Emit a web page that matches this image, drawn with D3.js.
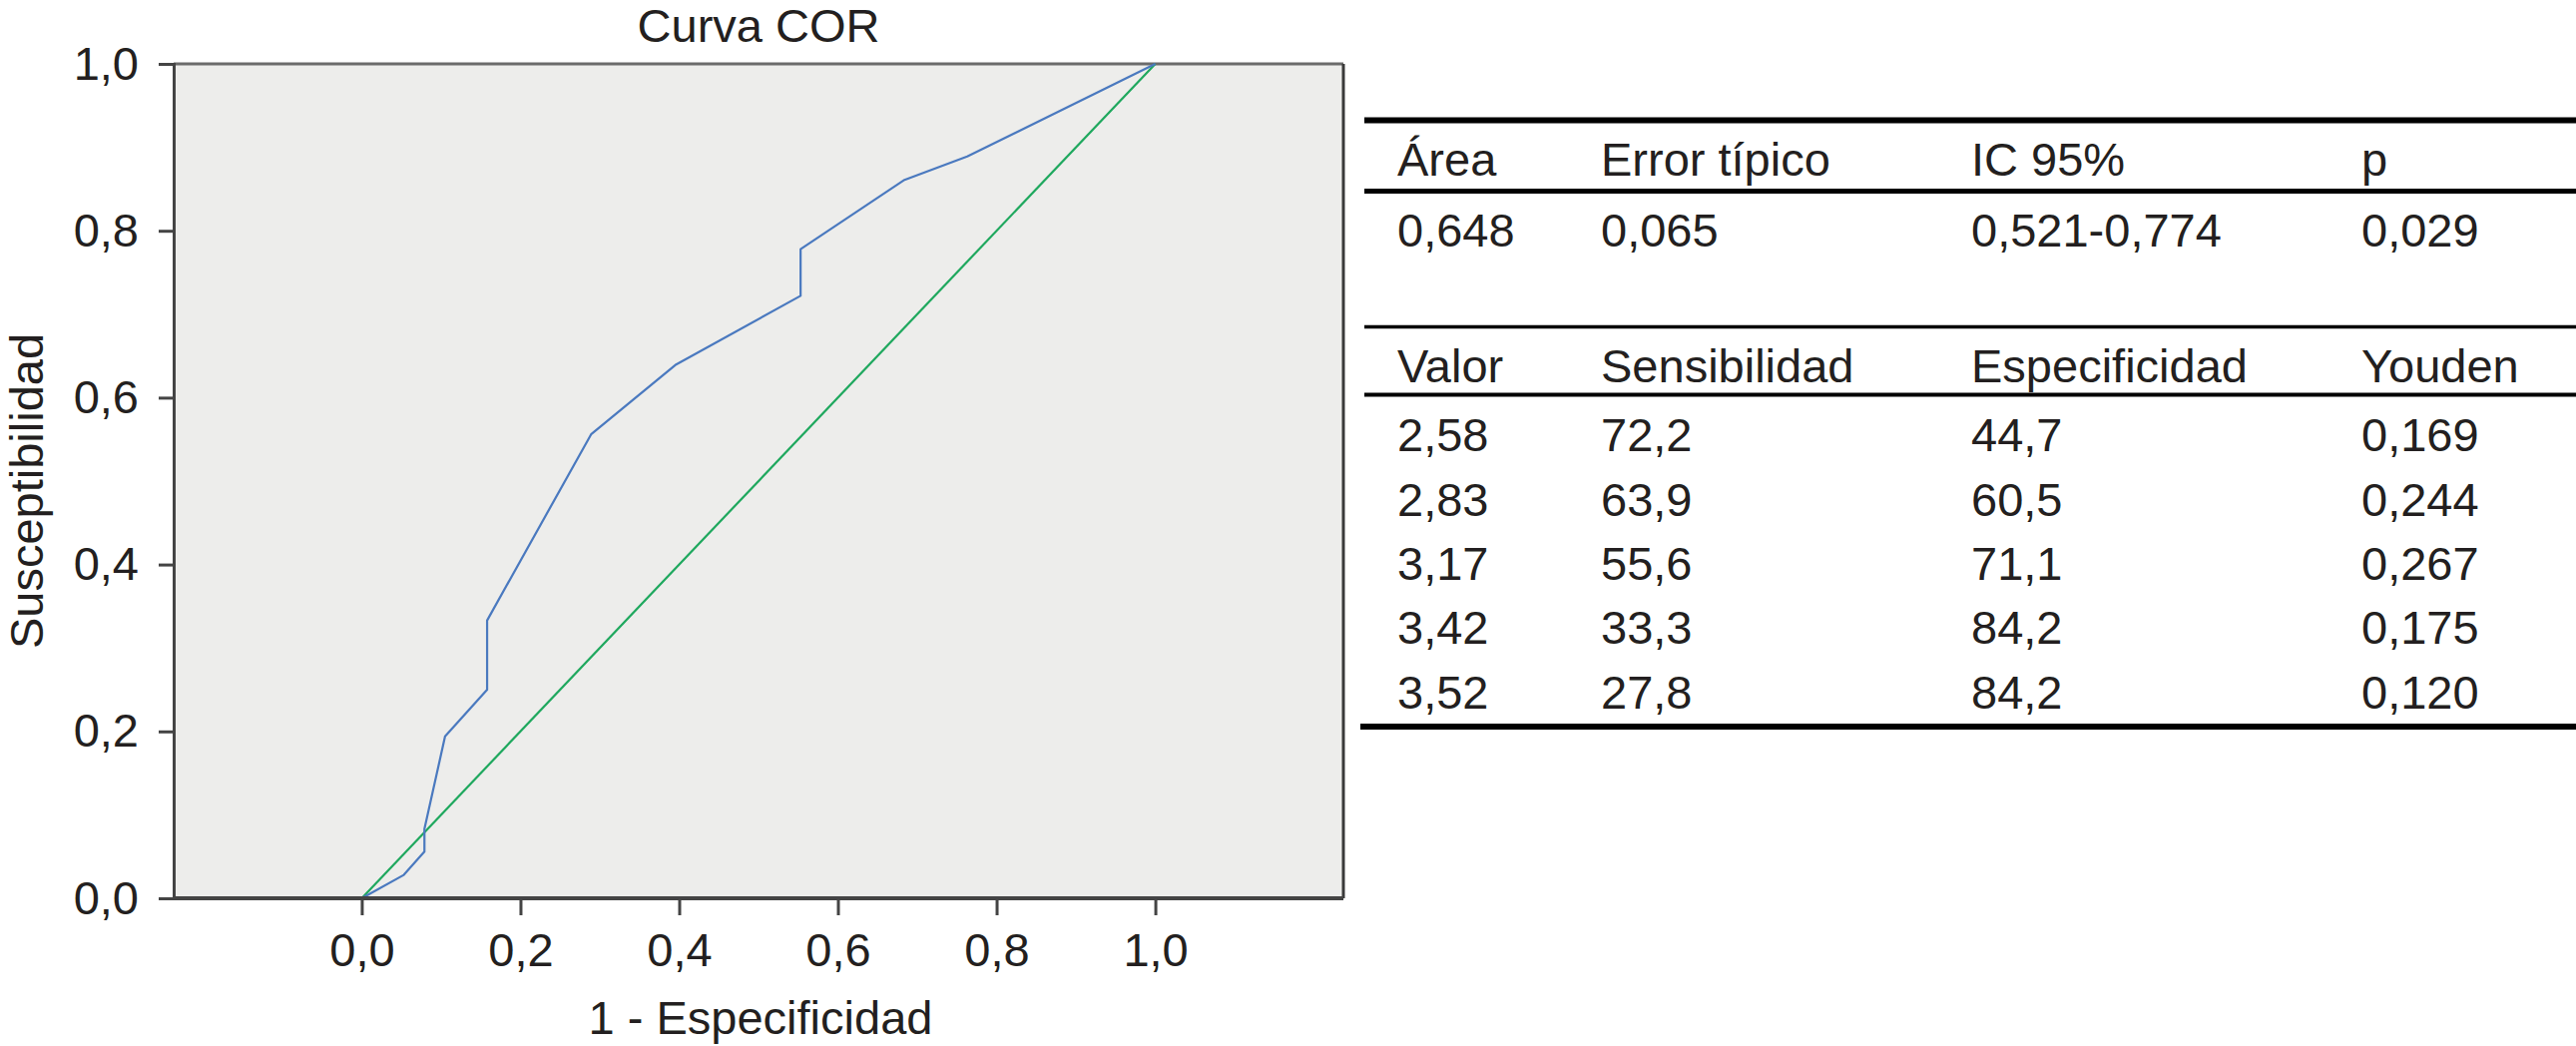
<!DOCTYPE html>
<html>
<head>
<meta charset="utf-8">
<script src="https://cdn.jsdelivr.net/npm/d3@7"></script>
<style>
html,body{margin:0;padding:0;background:#fff;}
svg text{font-family:"Liberation Sans",Arial,Helvetica,sans-serif;fill:#231f20;}
</style>
</head>
<body>
<svg id="chart" width="2581" height="1048"></svg>
<script>
// ROC curve data (1 - Especificidad, Susceptibilidad)
const rocFpr = [0, 0.053, 0.079, 0.079, 0.105, 0.158, 0.158, 0.289, 0.395, 0.553, 0.553, 0.684, 0.763, 1];
const rocTpr = [0, 0.028, 0.056, 0.083, 0.194, 0.250, 0.333, 0.556, 0.639, 0.722, 0.778, 0.861, 0.889, 1];
const refFpr = [0, 1];
const refTpr = [0, 1];
const xTicks = [0, 0.2, 0.4, 0.6, 0.8, 1.0];
const yTicks = [0, 0.2, 0.4, 0.6, 0.8, 1.0];
const titleText = "Curva COR";
const xTitle = "1 - Especificidad";
const yTitle = "Susceptibilidad";

// Table data
const header1 = ["Área", "Error típico", "IC 95%", "p"];
const row1 = ["0,648", "0,065", "0,521-0,774", "0,029"];
const header2 = ["Valor", "Sensibilidad", "Especificidad", "Youden"];
const valor = ["2,58", "2,83", "3,17", "3,42", "3,52"];
const sens = ["72,2", "63,9", "55,6", "33,3", "27,8"];
const espec = ["44,7", "60,5", "71,1", "84,2", "84,2"];
const youden = ["0,169", "0,244", "0,267", "0,175", "0,120"];

(function () {
const svg = d3.select("#chart");
const fmt = d => d3.format(".1f")(d).replace(".", ",");

const pL = 174, pR = 1346, pT = 64, pB = 900;
const x = d3.scaleLinear().domain([-0.237, 1.237]).range([pL, pR]);
const y = d3.scaleLinear().domain([0, 1]).range([pB, pT]);

// plot background
svg.append("rect").attr("x", pL).attr("y", pT)
  .attr("width", pR - pL).attr("height", pB - pT)
  .attr("fill", "#EDEDEB");

// top & right border
svg.append("line").attr("x1", pL).attr("x2", pR).attr("y1", pT).attr("y2", pT)
  .attr("stroke", "#6b6b6b").attr("stroke-width", 3);
svg.append("line").attr("x1", pR).attr("x2", pR).attr("y1", pT).attr("y2", pB)
  .attr("stroke", "#3a3a3a").attr("stroke-width", 3);

// reference diagonal
const line = d3.line().x(d => x(d[0])).y(d => y(d[1]));
svg.append("path").datum(d3.zip(refFpr, refTpr))
  .attr("d", line).attr("fill", "none").attr("stroke", "#1FA85E").attr("stroke-width", 2.2);

// ROC curve
svg.append("path").datum(d3.zip(rocFpr, rocTpr))
  .attr("d", line).attr("fill", "none").attr("stroke", "#4A79BF").attr("stroke-width", 2.2)
  .attr("stroke-linejoin", "round");

// Y axis
const yAxis = d3.axisLeft(y).tickValues(yTicks).tickFormat(fmt).tickSize(15).tickPadding(20);
const gy = svg.append("g").attr("transform", `translate(${pL},0)`).call(yAxis);
gy.select(".domain").attr("stroke", "#444").attr("stroke-width", 3);
gy.selectAll(".tick line").attr("stroke", "#444").attr("stroke-width", 3);
gy.selectAll(".tick text").attr("font-size", 47).attr("fill", "#231f20")
  .attr("font-family", '"Liberation Sans",Arial,sans-serif');

// X axis
const xAxis = d3.axisBottom(x).tickValues(xTicks).tickFormat(fmt).tickSize(17).tickPadding(18);
const gx = svg.append("g").attr("transform", `translate(0,${pB})`).call(xAxis);
gx.select(".domain").attr("stroke", "#444").attr("stroke-width", 4)
  .attr("d", `M${pL},0H${pR}`);
gx.selectAll(".tick line").attr("stroke", "#444").attr("stroke-width", 3);
gx.selectAll(".tick text").attr("font-size", 47).attr("fill", "#231f20")
  .attr("font-family", '"Liberation Sans",Arial,sans-serif');

// Titles
svg.append("text").attr("x", (pL + pR) / 2).attr("y", 42)
  .attr("text-anchor", "middle").attr("font-size", 47).text(titleText);
svg.append("text").attr("x", 762).attr("y", 1036)
  .attr("text-anchor", "middle").attr("font-size", 47).text(xTitle);
svg.append("text").attr("transform", "translate(43,492) rotate(-90)")
  .attr("text-anchor", "middle").attr("font-size", 47).text(yTitle);

// Table
const colX = [1400, 1604, 1975, 2366];
const tLeft = 1367, tRight = 2581;
const hline = (yy, w, x0) => svg.append("line").attr("x1", x0 || tLeft).attr("x2", tRight)
  .attr("y1", yy).attr("y2", yy).attr("stroke", "#000").attr("stroke-width", w);
hline(120.5, 6);
hline(191.5, 5);
hline(327.5, 3.5);
hline(395.5, 4);
hline(728, 6, 1363);

const tf = 47;
const addRow = (cells, yy) => cells.forEach((c, i) => {
  svg.append("text").attr("x", colX[i]).attr("y", yy).attr("font-size", tf).text(c);
});
addRow(header1, 176);
addRow(row1, 247);
addRow(header2, 383);
const rowYs = [451.5, 516.5, 580.5, 645, 710];
valor.forEach((v, i) => addRow([v, sens[i], espec[i], youden[i]], rowYs[i]));
})();
</script>
</body>
</html>
